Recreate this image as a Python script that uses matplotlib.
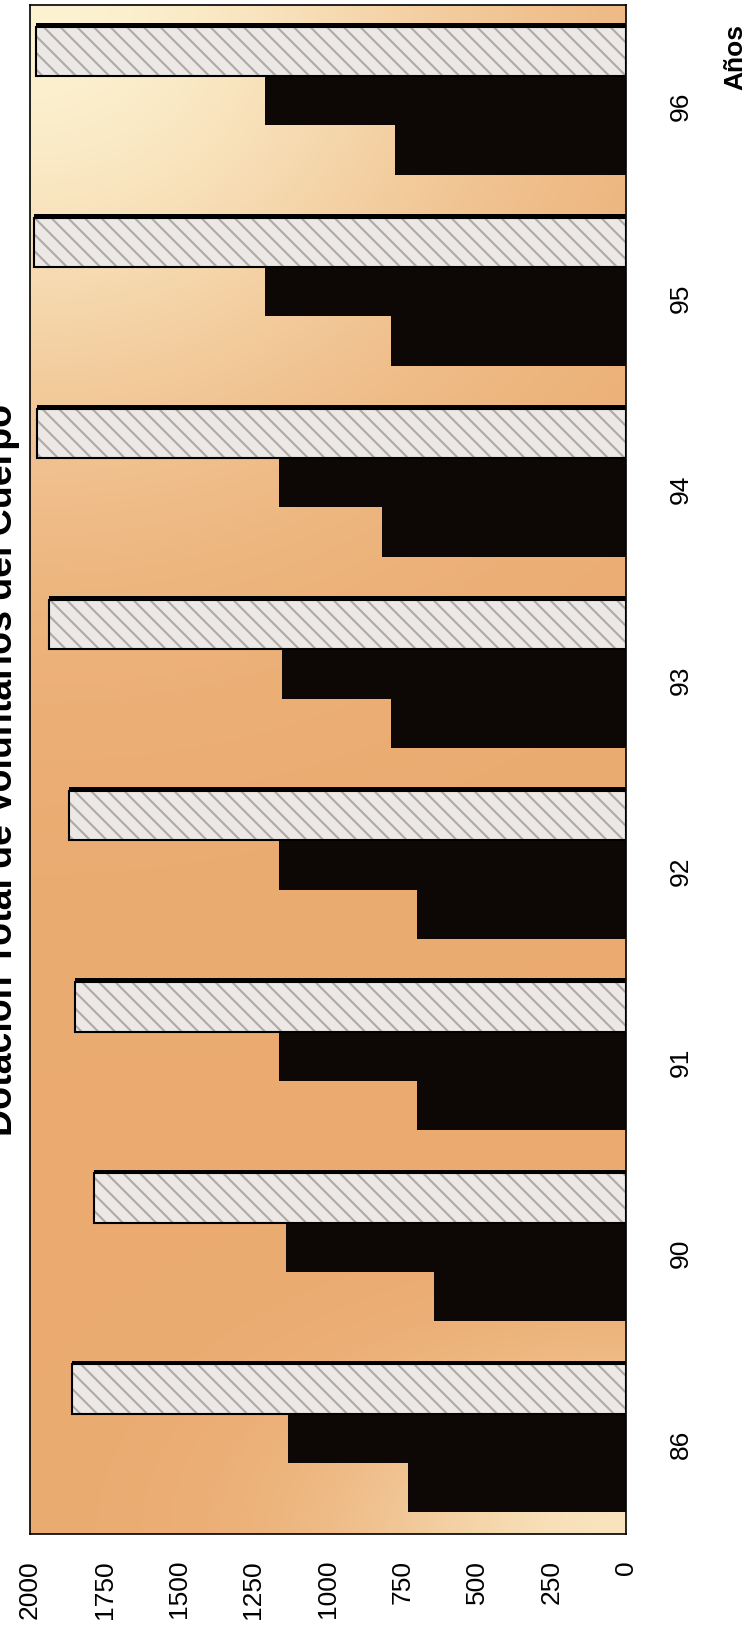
import numpy as np
import matplotlib.pyplot as plt

# datos (voluntarios por año)
anios = ['86', '90', '91', '92', '93', '94', '95', '96']
serie_a = [730, 645, 700, 700, 790, 820, 790, 775]
serie_b = [1135, 1140, 1165, 1165, 1155, 1165, 1210, 1210]
total = [1860, 1785, 1850, 1870, 1935, 1975, 1985, 1980]
marcas = list(range(0, 2001, 250))

plt.rcParams['font.family'] = ['Liberation Sans', 'DejaVu Sans']
plt.rcParams['hatch.linewidth'] = 1.5

fig = plt.figure(figsize=(7.56, 16.33), dpi=100)
ax = fig.add_axes([30/756, 98/1633, 596/756, 1529/1633])

y = np.arange(len(anios))
h = 0.258

# fondo degradado crema / naranja
u = np.linspace(0, 1, 200)[None, :]
v = np.linspace(0, 1, 400)[:, None]
w = np.maximum(np.exp(-((u/0.8)**2 + (v/0.28)**2)),
               0.8*np.exp(-(((1-u)/0.45)**2 + ((1-v)/0.1)**2)))
claro = np.array([0.99, 0.95, 0.82])
naranja = np.array([0.92, 0.67, 0.44])
img = naranja + w[..., None]*(claro - naranja)
ax.imshow(img, extent=(2000, 0, -0.5, 7.5), aspect='auto', zorder=0)

# barras
ax.barh(y - h, serie_a, height=h, color='#0d0706', zorder=2)
ax.barh(y, serie_b, height=h, color='#0d0706', zorder=2)
ax.barh(y + h + 0.02, total, height=h, color='black', zorder=2)
ax.barh(y + h, total, height=h, color='#ebe8e5', edgecolor='#b0aaa7',
        hatch='\\\\', linewidth=0, zorder=3)
ax.barh(y + h, total, height=h, fill=False, edgecolor='black',
        linewidth=1.5, zorder=4)

ax.set_xlim(2000, 0)
ax.set_ylim(-0.5, 7.5)
ax.set_xticks(marcas)
ax.tick_params(axis='x', length=0, pad=18, labelsize=19, labelrotation=90)
ax.yaxis.tick_right()
ax.set_yticks(y)
ax.set_yticklabels(anios)
ax.tick_params(axis='y', length=0, pad=31, labelsize=19, labelrotation=90)
for s in ax.spines.values():
    s.set_linewidth(1.2)
    s.set_color('black')

fig.text(735/756, 1 - 57/1633, 'Años', rotation=90, fontsize=19,
         fontweight='bold', ha='center', va='center')
fig.text(20/756, 1 - 770/1633, 'Dotación Total de Voluntarios del Cuerpo',
         rotation=90, fontsize=27, fontweight='bold', ha='right', va='center')

fig.savefig('out.png', dpi=100)
